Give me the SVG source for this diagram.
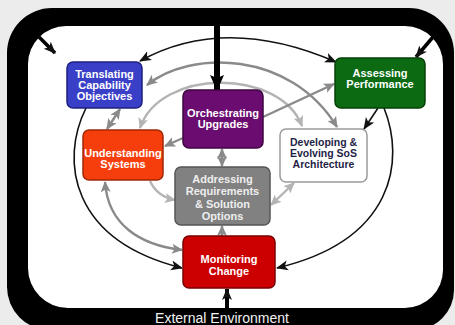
<svg xmlns="http://www.w3.org/2000/svg" width="455" height="325" viewBox="0 0 455 325">
<defs>
<style>
.box{stroke-width:1.5}
.t{font-family:"Liberation Sans",Arial,sans-serif;font-weight:bold;font-size:11px;text-anchor:middle;fill:#ffffff}
.blk{fill:none;stroke:#111;stroke-width:1.6}
.gr{fill:none;stroke:#8a8a8a;stroke-width:2.4}
.lg{fill:none;stroke:#b4b4b4;stroke-width:2.4}
</style>
<marker id="hb" markerUnits="userSpaceOnUse" markerWidth="12" markerHeight="12" viewBox="0 0 12 12" refX="11" refY="6" orient="auto-start-reverse"><path d="M0,1 L12,6 L0,11 L3,6 Z" fill="#111"/></marker>
<marker id="hg" markerUnits="userSpaceOnUse" markerWidth="11" markerHeight="11" viewBox="0 0 11 11" refX="10" refY="5.5" orient="auto-start-reverse"><path d="M0,0.5 L11,5.5 L0,10.5 L2.5,5.5 Z" fill="#8a8a8a"/></marker>
<marker id="hl" markerUnits="userSpaceOnUse" markerWidth="11" markerHeight="11" viewBox="0 0 11 11" refX="10" refY="5.5" orient="auto-start-reverse"><path d="M0,0.5 L11,5.5 L0,10.5 L2.5,5.5 Z" fill="#b4b4b4"/></marker>
<marker id="hbig" markerUnits="userSpaceOnUse" markerWidth="16" markerHeight="16" viewBox="0 0 16 16" refX="15" refY="8" orient="auto"><path d="M0,1 L16,8 L0,15 L3,8 Z" fill="#000"/></marker>
</defs>
<rect width="455" height="325" fill="#ececec"/>
<g id="frame">
<path fill="#ffffff" d="M66,26 H405 A38,38 0 0 1 443,64 V270 A38,38 0 0 1 405,308 H68 A40,40 0 0 1 28,268 V64 A38,38 0 0 1 66,26 Z"/>
<path fill="#000" fill-rule="evenodd" d="M52,8 H409 A45,45 0 0 1 454,53 V290 A40,40 0 0 1 414,330 H50 A43,43 0 0 1 7,287 V53 A45,45 0 0 1 52,8 Z M66,26 H405 A38,38 0 0 1 443,64 V270 A38,38 0 0 1 405,308 H68 A40,40 0 0 1 28,268 V64 A38,38 0 0 1 66,26 Z"/>
<text x="222" y="323" style="font-family:'Liberation Sans',Arial,sans-serif;font-size:14px;fill:#f2f2f2;text-anchor:middle">External Environment</text>
</g>
<g id="connectors">
<path class="blk" d="M140,61 Q225,14 336,62" marker-start="url(#hb)" marker-end="url(#hb)"/>
<path class="blk" d="M86,108 C60,160 70,240 182,268" marker-end="url(#hb)"/>
<path class="blk" d="M384,108 C405,160 395,240 277,268" marker-end="url(#hb)"/>
<path class="blk" d="M378,108 L364,129" marker-end="url(#hb)"/>
<path class="gr" d="M147,85 C190,50 290,50 337,127" marker-start="url(#hg)" marker-end="url(#hg)"/>
<path class="lg" d="M140,128 C160,68 280,68 302,126" marker-start="url(#hl)" marker-end="url(#hl)"/>
<path class="gr" d="M263,117 L334,84" marker-end="url(#hg)"/>
<path class="gr" d="M183,138 L165,146" marker-end="url(#hg)"/>
<path class="gr" d="M120,109 L107,129" marker-start="url(#hg)" marker-end="url(#hg)"/>
<path class="gr" d="M222,149 L222,166" marker-start="url(#hg)" marker-end="url(#hg)"/>
<path class="gr" d="M222,236 L222,226" marker-end="url(#hg)"/>
<path class="lg" d="M150,181 C155,192 165,198 175,200" marker-end="url(#hl)"/>
<path class="gr" d="M105,182 C108,225 140,245 182,250" marker-start="url(#hg)" marker-end="url(#hg)"/>
<path class="lg" d="M271,205 L294,183" marker-start="url(#hl)" marker-end="url(#hl)"/>
<path d="M217,22 L217,90" stroke="#000" stroke-width="6" fill="none" marker-end="url(#hbig)"/>
<path d="M39,37 L55,53" stroke="#000" stroke-width="3.5" fill="none" marker-end="url(#hb)"/>
<path d="M433,37 L416,57" stroke="#000" stroke-width="3.5" fill="none" marker-end="url(#hb)"/>
<path d="M227,309 L227,289" stroke="#000" stroke-width="4" fill="none" marker-end="url(#hb)"/>
</g>
<g id="translating">
<rect class="box" x="67" y="62" width="75" height="46" rx="6" fill="#3a3fc8" stroke="#1e2080"/>
<text class="t" x="104.5" y="78">Translating</text>
<text class="t" x="104.5" y="89">Capability</text>
<text class="t" x="104.5" y="100">Objectives</text>
</g>
<g id="orchestrating">
<rect class="box" x="183" y="90" width="80" height="58" rx="6" fill="#6b0d70" stroke="#3e0640"/>
<text class="t" x="223" y="117">Orchestrating</text>
<text class="t" x="223" y="128">Upgrades</text>
</g>
<g id="assessing">
<rect class="box" x="335" y="58" width="90" height="50" rx="6" fill="#0b6a12" stroke="#064008"/>
<text class="t" x="380" y="77">Assessing</text>
<text class="t" x="380" y="88">Performance</text>
</g>
<g id="understanding">
<rect class="box" x="83" y="130" width="80" height="50" rx="6" fill="#f53e0c" stroke="#a02806"/>
<text class="t" x="123" y="157">Understanding</text>
<text class="t" x="123" y="168">Systems</text>
</g>
<g id="developing">
<rect class="box" x="280" y="129" width="87" height="53" rx="6" fill="#ffffff" stroke="#9a9a9a"/>
<text class="t" x="323.5" y="146" style="fill:#1f1f48;font-size:10.5px">Developing &amp;</text>
<text class="t" x="323.5" y="157" style="fill:#1f1f48;font-size:10.5px">Evolving SoS</text>
<text class="t" x="323.5" y="168" style="fill:#1f1f48;font-size:10.5px">Architecture</text>
</g>
<g id="addressing">
<rect class="box" x="175" y="167" width="95" height="58" rx="6" fill="#818181" stroke="#555555"/>
<text class="t" x="222.5" y="183" style="fill:#eeeeee">Addressing</text>
<text class="t" x="222.5" y="195" style="fill:#eeeeee">Requirements</text>
<text class="t" x="222.5" y="208" style="fill:#eeeeee">&amp; Solution</text>
<text class="t" x="222.5" y="220" style="fill:#eeeeee">Options</text>
</g>
<g id="monitoring">
<rect class="box" x="183" y="236" width="92" height="52" rx="6" fill="#cc0000" stroke="#7a0000"/>
<text class="t" x="229" y="263">Monitoring</text>
<text class="t" x="229" y="275">Change</text>
</g>
</svg>
